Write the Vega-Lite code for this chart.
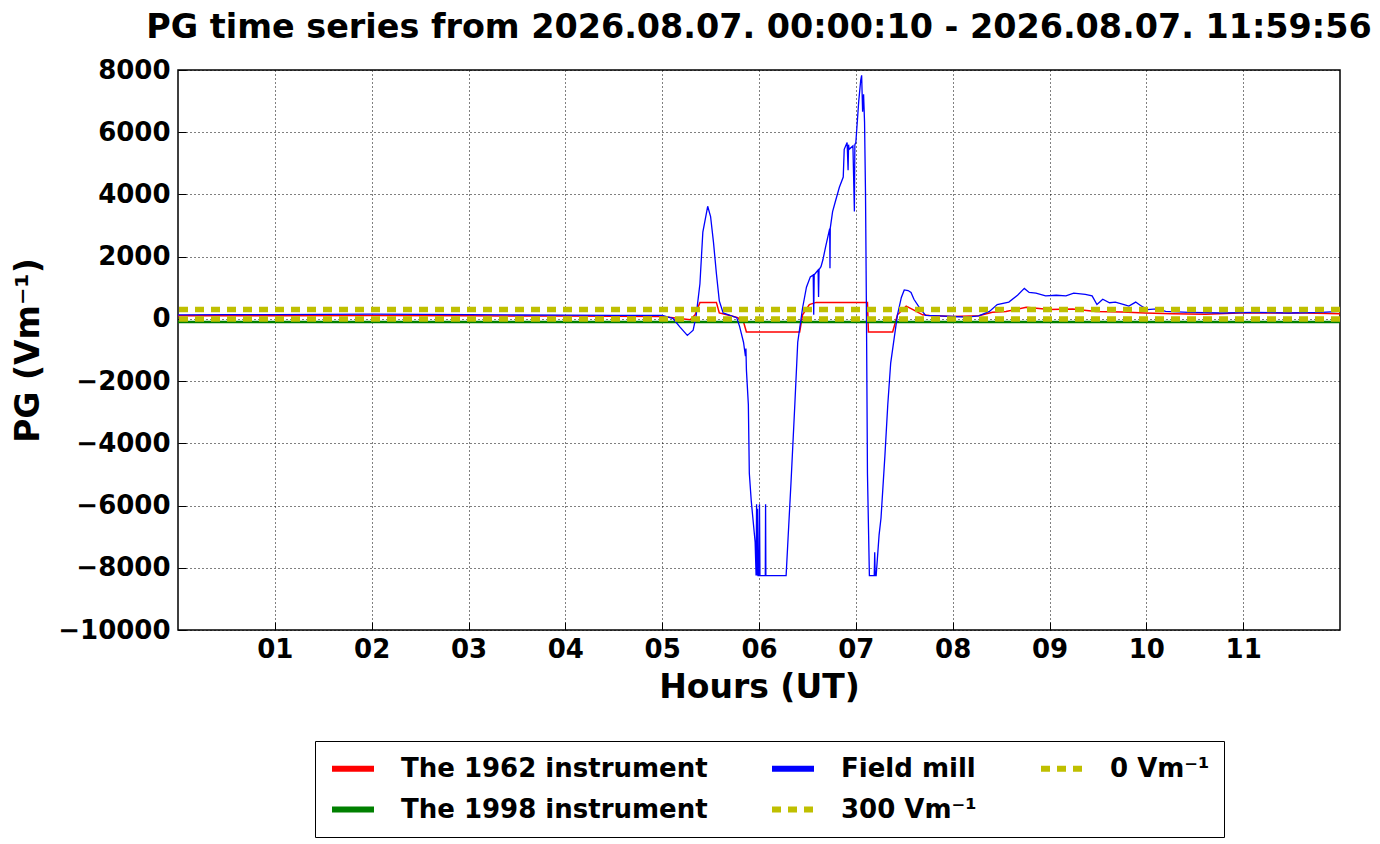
{
  "$schema": "https://vega.github.io/schema/vega-lite/v6.json",
  "width": 1162,
  "height": 560,
  "autosize": {"type": "none"},
  "padding": {"left": 178, "top": 70, "right": 40, "bottom": 214},
  "background": "white",
  "title": {
    "text": "PG time series from 2026.08.07. 00:00:10 - 2026.08.07. 11:59:56",
    "font": "DejaVu Sans",
    "fontSize": 33.4,
    "fontWeight": "bold",
    "color": "black",
    "anchor": "middle",
    "offset": 12
  },
  "datasets": {
    "pg": [
      {"series": "The 1962 instrument", "hour": 0, "pg": 100},
      {"series": "The 1962 instrument", "hour": 1, "pg": 100},
      {"series": "The 1962 instrument", "hour": 2, "pg": 105},
      {"series": "The 1962 instrument", "hour": 3, "pg": 100},
      {"series": "The 1962 instrument", "hour": 4, "pg": 90},
      {"series": "The 1962 instrument", "hour": 5, "pg": 80},
      {"series": "The 1962 instrument", "hour": 5.29, "pg": -30},
      {"series": "The 1962 instrument", "hour": 5.34, "pg": 130},
      {"series": "The 1962 instrument", "hour": 5.39, "pg": 530},
      {"series": "The 1962 instrument", "hour": 5.56, "pg": 530},
      {"series": "The 1962 instrument", "hour": 5.59, "pg": 190},
      {"series": "The 1962 instrument", "hour": 5.7, "pg": 110},
      {"series": "The 1962 instrument", "hour": 5.78, "pg": 40},
      {"series": "The 1962 instrument", "hour": 5.84, "pg": -90},
      {"series": "The 1962 instrument", "hour": 5.87, "pg": -420},
      {"series": "The 1962 instrument", "hour": 6.42, "pg": -420},
      {"series": "The 1962 instrument", "hour": 6.45, "pg": 130},
      {"series": "The 1962 instrument", "hour": 6.52, "pg": 460},
      {"series": "The 1962 instrument", "hour": 6.59, "pg": 530},
      {"series": "The 1962 instrument", "hour": 7.12, "pg": 530},
      {"series": "The 1962 instrument", "hour": 7.13, "pg": -420},
      {"series": "The 1962 instrument", "hour": 7.38, "pg": -420},
      {"series": "The 1962 instrument", "hour": 7.43, "pg": 130},
      {"series": "The 1962 instrument", "hour": 7.52, "pg": 410},
      {"series": "The 1962 instrument", "hour": 7.59, "pg": 300},
      {"series": "The 1962 instrument", "hour": 7.69, "pg": 130},
      {"series": "The 1962 instrument", "hour": 7.76, "pg": 110},
      {"series": "The 1962 instrument", "hour": 8.0, "pg": 77},
      {"series": "The 1962 instrument", "hour": 8.27, "pg": 100},
      {"series": "The 1962 instrument", "hour": 8.41, "pg": 210},
      {"series": "The 1962 instrument", "hour": 8.55, "pg": 240},
      {"series": "The 1962 instrument", "hour": 8.76, "pg": 370},
      {"series": "The 1962 instrument", "hour": 9.0, "pg": 300},
      {"series": "The 1962 instrument", "hour": 9.24, "pg": 320},
      {"series": "The 1962 instrument", "hour": 9.48, "pg": 240},
      {"series": "The 1962 instrument", "hour": 9.75, "pg": 220},
      {"series": "The 1962 instrument", "hour": 9.99, "pg": 190},
      {"series": "The 1962 instrument", "hour": 10.27, "pg": 165},
      {"series": "The 1962 instrument", "hour": 10.61, "pg": 150},
      {"series": "The 1962 instrument", "hour": 10.96, "pg": 190},
      {"series": "The 1962 instrument", "hour": 11.3, "pg": 190},
      {"series": "The 1962 instrument", "hour": 11.64, "pg": 190},
      {"series": "The 1962 instrument", "hour": 12.0, "pg": 165},
      {"series": "The 1998 instrument", "hour": 0, "pg": -100},
      {"series": "The 1998 instrument", "hour": 6, "pg": -100},
      {"series": "The 1998 instrument", "hour": 12, "pg": -100},
      {"series": "Field mill", "hour": 0, "pg": 130},
      {"series": "Field mill", "hour": 0.5, "pg": 135},
      {"series": "Field mill", "hour": 1, "pg": 140},
      {"series": "Field mill", "hour": 1.5, "pg": 145},
      {"series": "Field mill", "hour": 2, "pg": 150},
      {"series": "Field mill", "hour": 2.5, "pg": 145},
      {"series": "Field mill", "hour": 3, "pg": 135},
      {"series": "Field mill", "hour": 3.5, "pg": 125},
      {"series": "Field mill", "hour": 4, "pg": 120},
      {"series": "Field mill", "hour": 4.5, "pg": 115},
      {"series": "Field mill", "hour": 5.0, "pg": 110},
      {"series": "Field mill", "hour": 5.11, "pg": 20},
      {"series": "Field mill", "hour": 5.18, "pg": -250},
      {"series": "Field mill", "hour": 5.26, "pg": -530},
      {"series": "Field mill", "hour": 5.32, "pg": -365},
      {"series": "Field mill", "hour": 5.35, "pg": 80},
      {"series": "Field mill", "hour": 5.39, "pg": 1130},
      {"series": "Field mill", "hour": 5.42, "pg": 2790},
      {"series": "Field mill", "hour": 5.46, "pg": 3450},
      {"series": "Field mill", "hour": 5.47, "pg": 3620},
      {"series": "Field mill", "hour": 5.5, "pg": 3290},
      {"series": "Field mill", "hour": 5.53, "pg": 2460},
      {"series": "Field mill", "hour": 5.56, "pg": 1460},
      {"series": "Field mill", "hour": 5.59, "pg": 580},
      {"series": "Field mill", "hour": 5.63, "pg": 190},
      {"series": "Field mill", "hour": 5.7, "pg": 110},
      {"series": "Field mill", "hour": 5.77, "pg": 40},
      {"series": "Field mill", "hour": 5.8, "pg": -250},
      {"series": "Field mill", "hour": 5.84, "pg": -750},
      {"series": "Field mill", "hour": 5.86, "pg": -1200},
      {"series": "Field mill", "hour": 5.865, "pg": -950},
      {"series": "Field mill", "hour": 5.87, "pg": -1640},
      {"series": "Field mill", "hour": 5.89, "pg": -2750},
      {"series": "Field mill", "hour": 5.9, "pg": -4960},
      {"series": "Field mill", "hour": 5.92, "pg": -5850},
      {"series": "Field mill", "hour": 5.96, "pg": -7170},
      {"series": "Field mill", "hour": 5.97, "pg": -8250},
      {"series": "Field mill", "hour": 5.975, "pg": -5960},
      {"series": "Field mill", "hour": 5.98, "pg": -8250},
      {"series": "Field mill", "hour": 5.985, "pg": -6100},
      {"series": "Field mill", "hour": 5.99, "pg": -8250},
      {"series": "Field mill", "hour": 6.0, "pg": -8250},
      {"series": "Field mill", "hour": 6.005, "pg": -5960},
      {"series": "Field mill", "hour": 6.01, "pg": -8250},
      {"series": "Field mill", "hour": 6.065, "pg": -8250},
      {"series": "Field mill", "hour": 6.068, "pg": -5960},
      {"series": "Field mill", "hour": 6.071, "pg": -8250},
      {"series": "Field mill", "hour": 6.28, "pg": -8250},
      {"series": "Field mill", "hour": 6.3, "pg": -7060},
      {"series": "Field mill", "hour": 6.33, "pg": -5290},
      {"series": "Field mill", "hour": 6.37, "pg": -2750},
      {"series": "Field mill", "hour": 6.4, "pg": -750},
      {"series": "Field mill", "hour": 6.45, "pg": 350},
      {"series": "Field mill", "hour": 6.49, "pg": 1020},
      {"series": "Field mill", "hour": 6.53, "pg": 1350},
      {"series": "Field mill", "hour": 6.56, "pg": 1410},
      {"series": "Field mill", "hour": 6.565, "pg": 130},
      {"series": "Field mill", "hour": 6.57, "pg": 1420},
      {"series": "Field mill", "hour": 6.61, "pg": 1570},
      {"series": "Field mill", "hour": 6.615, "pg": 700},
      {"series": "Field mill", "hour": 6.62, "pg": 1580},
      {"series": "Field mill", "hour": 6.64, "pg": 1680},
      {"series": "Field mill", "hour": 6.66, "pg": 1900},
      {"series": "Field mill", "hour": 6.69, "pg": 2350},
      {"series": "Field mill", "hour": 6.73, "pg": 2900},
      {"series": "Field mill", "hour": 6.733, "pg": 1630},
      {"series": "Field mill", "hour": 6.736, "pg": 2920},
      {"series": "Field mill", "hour": 6.76, "pg": 3450},
      {"series": "Field mill", "hour": 6.79, "pg": 3790},
      {"series": "Field mill", "hour": 6.83, "pg": 4230},
      {"series": "Field mill", "hour": 6.87, "pg": 4560},
      {"series": "Field mill", "hour": 6.88, "pg": 5450},
      {"series": "Field mill", "hour": 6.91, "pg": 5670},
      {"series": "Field mill", "hour": 6.92, "pg": 4780},
      {"series": "Field mill", "hour": 6.925, "pg": 5600},
      {"series": "Field mill", "hour": 6.93, "pg": 5450},
      {"series": "Field mill", "hour": 6.97, "pg": 5560},
      {"series": "Field mill", "hour": 6.985, "pg": 3450},
      {"series": "Field mill", "hour": 6.99, "pg": 5600},
      {"series": "Field mill", "hour": 7.0, "pg": 5670},
      {"series": "Field mill", "hour": 7.03, "pg": 7000},
      {"series": "Field mill", "hour": 7.05, "pg": 7660},
      {"series": "Field mill", "hour": 7.06, "pg": 7830},
      {"series": "Field mill", "hour": 7.07, "pg": 6660},
      {"series": "Field mill", "hour": 7.08, "pg": 7220},
      {"series": "Field mill", "hour": 7.09, "pg": 6330},
      {"series": "Field mill", "hour": 7.1, "pg": 4010},
      {"series": "Field mill", "hour": 7.11, "pg": 20},
      {"series": "Field mill", "hour": 7.12, "pg": -4960},
      {"series": "Field mill", "hour": 7.14, "pg": -8250},
      {"series": "Field mill", "hour": 7.19, "pg": -8250},
      {"series": "Field mill", "hour": 7.195, "pg": -7500},
      {"series": "Field mill", "hour": 7.2, "pg": -8250},
      {"series": "Field mill", "hour": 7.21, "pg": -8250},
      {"series": "Field mill", "hour": 7.24, "pg": -6950},
      {"series": "Field mill", "hour": 7.26, "pg": -6400},
      {"series": "Field mill", "hour": 7.3, "pg": -4410},
      {"series": "Field mill", "hour": 7.33, "pg": -2750},
      {"series": "Field mill", "hour": 7.36, "pg": -1420},
      {"series": "Field mill", "hour": 7.4, "pg": -530},
      {"series": "Field mill", "hour": 7.43, "pg": 130},
      {"series": "Field mill", "hour": 7.47, "pg": 690},
      {"series": "Field mill", "hour": 7.5, "pg": 930},
      {"series": "Field mill", "hour": 7.54, "pg": 910},
      {"series": "Field mill", "hour": 7.57, "pg": 850},
      {"series": "Field mill", "hour": 7.6, "pg": 630},
      {"series": "Field mill", "hour": 7.66, "pg": 350},
      {"series": "Field mill", "hour": 7.72, "pg": 110},
      {"series": "Field mill", "hour": 7.86, "pg": 100},
      {"series": "Field mill", "hour": 8.0, "pg": 77},
      {"series": "Field mill", "hour": 8.14, "pg": 55},
      {"series": "Field mill", "hour": 8.27, "pg": 100},
      {"series": "Field mill", "hour": 8.38, "pg": 240},
      {"series": "Field mill", "hour": 8.46, "pg": 460},
      {"series": "Field mill", "hour": 8.58, "pg": 540},
      {"series": "Field mill", "hour": 8.67, "pg": 760},
      {"series": "Field mill", "hour": 8.74, "pg": 980},
      {"series": "Field mill", "hour": 8.79, "pg": 850},
      {"series": "Field mill", "hour": 8.86, "pg": 825},
      {"series": "Field mill", "hour": 8.96, "pg": 740},
      {"series": "Field mill", "hour": 9.07, "pg": 760},
      {"series": "Field mill", "hour": 9.17, "pg": 740},
      {"series": "Field mill", "hour": 9.25, "pg": 825},
      {"series": "Field mill", "hour": 9.37, "pg": 790},
      {"series": "Field mill", "hour": 9.44, "pg": 740},
      {"series": "Field mill", "hour": 9.49, "pg": 460},
      {"series": "Field mill", "hour": 9.55, "pg": 630},
      {"series": "Field mill", "hour": 9.62, "pg": 520},
      {"series": "Field mill", "hour": 9.68, "pg": 540},
      {"series": "Field mill", "hour": 9.77, "pg": 460},
      {"series": "Field mill", "hour": 9.82, "pg": 410},
      {"series": "Field mill", "hour": 9.89, "pg": 540},
      {"series": "Field mill", "hour": 9.94, "pg": 430},
      {"series": "Field mill", "hour": 10.01, "pg": 300},
      {"series": "Field mill", "hour": 10.11, "pg": 320},
      {"series": "Field mill", "hour": 10.2, "pg": 240},
      {"series": "Field mill", "hour": 10.44, "pg": 210},
      {"series": "Field mill", "hour": 10.78, "pg": 190},
      {"series": "Field mill", "hour": 11.13, "pg": 210},
      {"series": "Field mill", "hour": 11.47, "pg": 190},
      {"series": "Field mill", "hour": 11.81, "pg": 210},
      {"series": "Field mill", "hour": 12.0, "pg": 240},
      {"series": "300 Vm⁻¹", "pg": 300},
      {"series": "0 Vm⁻¹", "pg": 0}
    ]
  },
  "data": {"name": "pg"},
  "encoding": {
    "y": {
      "field": "pg",
      "type": "quantitative",
      "title": "PG (Vm⁻¹)",
      "scale": {"domain": [-10000, 8000], "nice": false, "zero": false},
      "axis": {
        "values": [-10000, -8000, -6000, -4000, -2000, 0, 2000, 4000, 6000, 8000],
        "format": "d",
        "labelPadding": 16,
        "titlePadding": 12
      }
    },
    "color": {
      "field": "series",
      "type": "nominal",
      "scale": {
        "domain": ["The 1962 instrument", "The 1998 instrument", "Field mill", "300 Vm⁻¹", "0 Vm⁻¹"],
        "range": ["#ff0000", "#008000", "#0000ff", "#bfbf00", "#bfbf00"]
      },
      "legend": {
        "orient": "none",
        "legendX": 137,
        "legendY": 671,
        "columns": 3,
        "title": null,
        "symbolType": "M-1,0H3",
        "symbolSize": 441,
        "symbolStrokeWidth": 6,
        "labelLimit": 500,
        "labelOffset": 45,
        "columnPadding": 52,
        "rowPadding": 14,
        "padding": 14,
        "strokeColor": "black",
        "fillColor": "white",
        "encode": {
          "symbols": {
            "update": {
              "fill": {"value": "transparent"},
              "strokeDash": [
                {"test": "datum.value == '300 Vm⁻¹' || datum.value == '0 Vm⁻¹'", "value": [9, 7]},
                {"value": []}
              ]
            }
          }
        }
      }
    }
  },
  "layer": [
    {
      "transform": [{"filter": "datum.series == 'The 1962 instrument'"}],
      "mark": {"type": "line", "strokeWidth": 1.5},
      "encoding": {
        "x": {
          "field": "hour",
          "type": "quantitative",
          "title": "Hours (UT)",
          "scale": {"domain": [0, 12], "nice": false, "zero": false},
          "axis": {
            "values": [1, 2, 3, 4, 5, 6, 7, 8, 9, 10, 11],
            "labelExpr": "datum.value < 10 ? '0' + datum.value : '' + datum.value",
            "labelPadding": 14,
            "titlePadding": 9
          }
        }
      }
    },
    {
      "transform": [{"filter": "datum.series == 'The 1998 instrument'"}],
      "mark": {"type": "line", "strokeWidth": 2.5},
      "encoding": {"x": {"field": "hour", "type": "quantitative"}}
    },
    {
      "transform": [{"filter": "datum.series == 'Field mill'"}],
      "mark": {"type": "line", "strokeWidth": 1.3},
      "encoding": {"x": {"field": "hour", "type": "quantitative"}}
    },
    {
      "transform": [{"filter": "datum.series == '300 Vm⁻¹' || datum.series == '0 Vm⁻¹'"}],
      "mark": {"type": "rule", "strokeWidth": 5.5, "strokeDash": [9, 7]},
      "encoding": {}
    }
  ],
  "config": {
    "font": "DejaVu Sans",
    "view": {"stroke": "black", "strokeWidth": 1.5},
    "axis": {
      "labelFont": "DejaVu Sans",
      "labelFontWeight": "bold",
      "labelFontSize": 26,
      "labelColor": "black",
      "titleFont": "DejaVu Sans",
      "titleFontWeight": "bold",
      "titleFontSize": 33,
      "titleColor": "black",
      "grid": true,
      "gridColor": "black",
      "gridDash": [1, 3],
      "gridWidth": 1,
      "gridOpacity": 1,
      "domain": false,
      "tickColor": "black",
      "tickSize": -8,
      "tickWidth": 1
    },
    "legend": {
      "labelFont": "DejaVu Sans",
      "labelFontWeight": "bold",
      "labelFontSize": 26,
      "labelColor": "black"
    }
  }
}
